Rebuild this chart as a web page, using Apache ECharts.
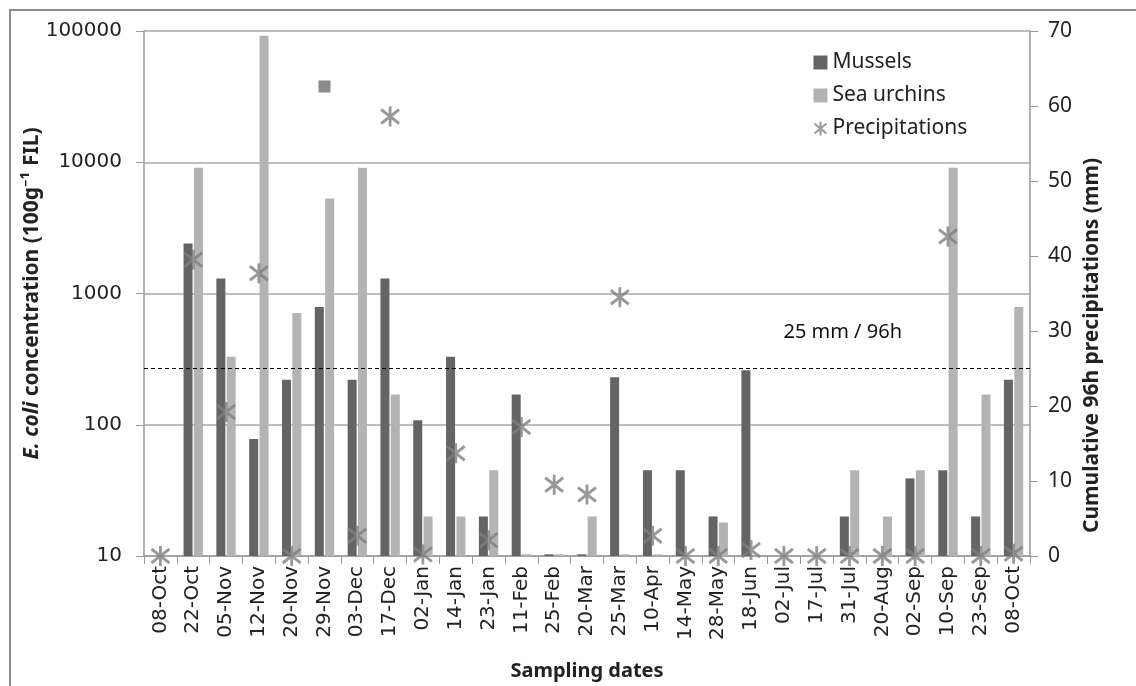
<!DOCTYPE html>
<html>
<head>
<meta charset="utf-8">
<script src="https://cdn.jsdelivr.net/npm/echarts@6/dist/echarts.min.js"></script>
<style>
    html,body{margin:0;padding:0;background:#fff;}
    #chart{width:1136px;height:686px;}
</style>
</head>
<body>
<div id="chart"></div>
<script>
// sampling dates
let dates = ['08-Oct','22-Oct','05-Nov','12-Nov','20-Nov','29-Nov','03-Dec','17-Dec','02-Jan','14-Jan','23-Jan','11-Feb','25-Feb','20-Mar','25-Mar','10-Apr','14-May','28-May','18-Jun','02-Jul','17-Jul','31-Jul','20-Aug','02-Sep','10-Sep','23-Sep','08-Oct']
// E. coli (100g-1 FIL), null = no bar, ~10 = tiny dash at the bottom
let mussels = [null,2400,1300,78,220,790,220,1300,108,330,20,170,10.3,10.3,230,45,45,20,260,null,null,20,null,39,45,20,220]
let urchins = [null,9100,330,92000,710,5300,9100,170,20,20,45,10.3,10.3,20,10.3,10.3,null,18,null,null,null,45,20,45,9100,170,790]
// cumulative 96h precipitations (mm)
let precip = [0,39.5,19.2,37.7,0,62.6,2.7,58.6,0.2,13.7,2.1,17.2,9.5,8.2,34.5,2.7,0,0,0.8,0,0,0,0,0,42.6,0,0.3]
let squareIdx = 5   // this point is drawn as a square in the figure
let threshold = 25

let star = 'path://M0,-10L0,10M-8.5,-7L8.5,7M-8.5,7L8.5,-7'

let chart = echarts.init(document.getElementById('chart'))

let precipData = precip.map((v,i)=>{
    if(i==squareIdx){
        return {value:v, symbol:'rect', symbolSize:12, itemStyle:{color:'#6e6e6e', borderWidth:0}}
    }
    return v
})

chart.setOption({
    animation:false,
    backgroundColor:'#fff',
    graphic:[{
        type:'rect',
        shape:{x:10, y:10, width:1140, height:700},
        style:{fill:'none', stroke:'#8c8c8c', lineWidth:2},
        silent:true
    }],
    legend:{
        orient:'vertical',
        left:807,
        top:47,
        itemWidth:14,
        itemHeight:14,
        itemGap:12,
        textStyle:{fontFamily:'Noto Sans', fontSize:21, color:'#222'},
        data:[
            {name:'Mussels', icon:'rect'},
            {name:'Sea urchins', icon:'rect'},
            {name:'Precipitations', icon:star, itemStyle:{color:'none', borderColor:'#808080', borderWidth:2}}
        ]
    },
    grid:{left:144, right:106, top:31, bottom:130, outerBoundsMode:'none', containLabel:false},
    xAxis:{
        type:'category',
        data:dates,
        boundaryGap:true,
        axisLine:{lineStyle:{color:'#9a9a9a', width:1.5}},
        axisTick:{show:true, interval:0, length:8, lineStyle:{color:'#9a9a9a'}},
        axisLabel:{interval:0, rotate:90, margin:10, fontFamily:'DejaVu Sans', fontSize:20, color:'#222'},
        name:'Sampling dates',
        nameLocation:'middle',
        nameGap:105,
        nameMoveOverlap:false,
        nameTextStyle:{fontFamily:'Noto Sans', fontWeight:'bold', fontSize:20, color:'#222'}
    },
    yAxis:[{
        type:'log',
        logBase:10,
        min:10,
        max:100000,
        name:'{i|E. coli} concentration (100g⁻¹ FIL)',
        nameLocation:'middle',
        nameGap:101,
        nameMoveOverlap:false,
        nameTextStyle:{
            fontFamily:'Noto Sans', fontWeight:'bold', fontSize:21, color:'#222',
            rich:{i:{fontFamily:'Noto Sans', fontWeight:'bold', fontStyle:'italic', fontSize:21, color:'#222'}}
        },
        axisLine:{show:true, lineStyle:{color:'#9a9a9a', width:1.5}},
        axisTick:{show:true, length:8, lineStyle:{color:'#9a9a9a'}},
        axisLabel:{
            margin:22, fontFamily:'DejaVu Sans', fontSize:20, color:'#222',
            formatter:v=>String(Math.round(v))
        },
        splitLine:{show:true, lineStyle:{color:'#a8a8a8', width:1.5}}
    },{
        type:'value',
        min:0,
        max:70,
        interval:10,
        position:'right',
        name:'Cumulative 96h precipitations (mm)',
        nameLocation:'middle',
        nameGap:52,
        nameMoveOverlap:false,
        nameTextStyle:{fontFamily:'Noto Sans', fontWeight:'bold', fontSize:21, color:'#222', padding:[0,104,0,0]},
        axisLine:{show:true, lineStyle:{color:'#9a9a9a', width:1.5}},
        axisTick:{show:true, length:8, lineStyle:{color:'#9a9a9a'}},
        axisLabel:{margin:18, fontFamily:'Noto Sans', fontSize:21, color:'#222'},
        splitLine:{show:false}
    }],
    series:[{
        name:'Mussels',
        type:'bar',
        yAxisIndex:0,
        barWidth:9,
        barGap:'15%',
        itemStyle:{color:'#646464'},
        data:mussels
    },{
        name:'Sea urchins',
        type:'bar',
        yAxisIndex:0,
        barWidth:9,
        itemStyle:{color:'#b3b3b3'},
        data:urchins
    },{
        name:'Precipitations',
        type:'scatter',
        yAxisIndex:1,
        symbol:star,
        symbolSize:[18,20],
        itemStyle:{color:'none', borderColor:'#808080', borderWidth:3},
        data:precipData,
        z:5,
        markLine:{
            silent:true,
            symbol:'none',
            lineStyle:{color:'#000', type:[4,3], width:1},
            label:{
                show:true,
                position:'insideEndTop',
                formatter:'25 mm / 96h',
                fontFamily:'Noto Sans',
                fontSize:20,
                color:'#111',
                offset:[-123,-21]
            },
            data:[{yAxis:threshold}]
        }
    }]
})
</script>
</body>
</html>
